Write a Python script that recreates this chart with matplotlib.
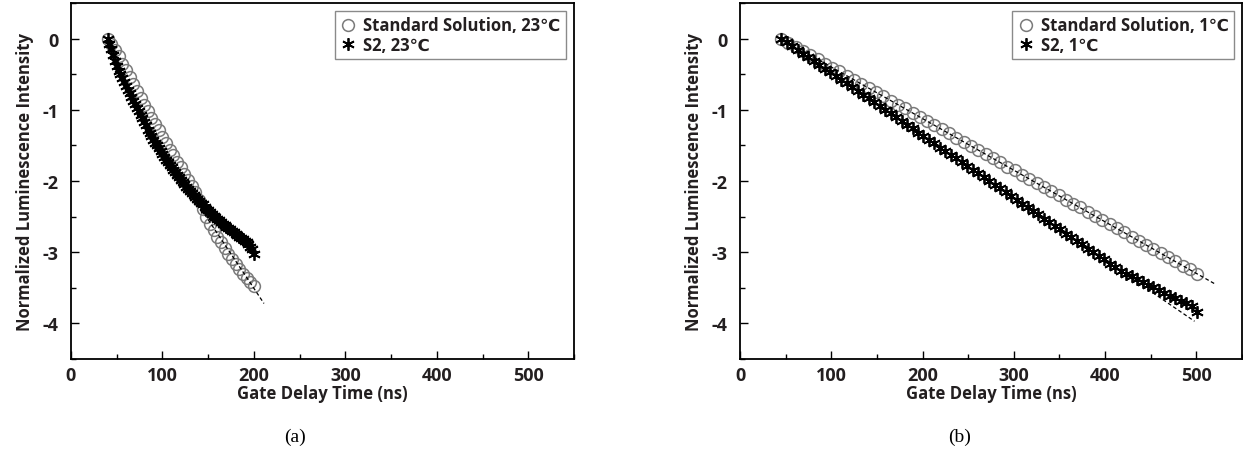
import numpy as np
import matplotlib.pyplot as plt
from matplotlib.ticker import MultipleLocator

plt.rcParams['font.family'] = ['Open Sans', 'DejaVu Sans']
plt.rcParams['font.weight'] = 'bold'
plt.rcParams['axes.labelweight'] = 'bold'
plt.rcParams['axes.unicode_minus'] = False

# (a) 23 C
t_a_std = np.arange(40, 201, 4)
y_a_std = [0.00, -0.07, -0.16, -0.25, -0.35, -0.44, -0.54, -0.64, -0.74, -0.84,
           -0.93, -1.02, -1.11, -1.20, -1.29, -1.38, -1.47, -1.56, -1.64, -1.73,
           -1.81, -1.90, -1.98, -2.07, -2.16, -2.27, -2.39, -2.50, -2.60, -2.69,
           -2.78, -2.86, -2.94, -3.02, -3.09, -3.16, -3.23, -3.30, -3.36, -3.42,
           -3.48]
t_a_s2 = np.arange(40, 201, 2)
y_a_s2 = [0.00, -0.07, -0.15, -0.23, -0.31, -0.38, -0.45, -0.50, -0.56, -0.61,
          -0.66, -0.72, -0.77, -0.82, -0.87, -0.92, -0.97, -1.02, -1.07, -1.12,
          -1.17, -1.22, -1.29, -1.33, -1.37, -1.42, -1.46, -1.50, -1.54, -1.58,
          -1.62, -1.66, -1.70, -1.74, -1.78, -1.81, -1.84, -1.88, -1.91, -1.94,
          -1.98, -2.01, -2.04, -2.08, -2.11, -2.14, -2.17, -2.20, -2.23, -2.25,
          -2.28, -2.31, -2.33, -2.36, -2.39, -2.41, -2.44, -2.46, -2.49, -2.51,
          -2.53, -2.55, -2.58, -2.60, -2.62, -2.64, -2.66, -2.68, -2.70, -2.72,
          -2.74, -2.76, -2.78, -2.80, -2.82, -2.84, -2.86, -2.89, -2.92, -2.96,
          -3.02]
fit_a_t = [112, 211]
fit_a_y = [-1.81, -3.72]

# (b) 1 C
t_b_std = np.arange(45, 502, 8)
y_b_std = [0.00, -0.06, -0.12, -0.17, -0.23, -0.29, -0.35, -0.41, -0.46, -0.52,
           -0.58, -0.64, -0.70, -0.75, -0.81, -0.87, -0.93, -0.98, -1.04, -1.10,
           -1.16, -1.22, -1.27, -1.33, -1.39, -1.45, -1.51, -1.56, -1.62, -1.68,
           -1.74, -1.80, -1.85, -1.91, -1.97, -2.03, -2.09, -2.14, -2.20, -2.26,
           -2.32, -2.37, -2.43, -2.49, -2.55, -2.61, -2.66, -2.72, -2.78, -2.84,
           -2.90, -2.95, -3.01, -3.07, -3.13, -3.19, -3.24, -3.30]
t_b_s2 = np.arange(45, 502, 6)
y_b_s2 = [0.00, -0.05, -0.11, -0.16, -0.21, -0.26, -0.32, -0.37, -0.42, -0.47,
          -0.53, -0.58, -0.63, -0.68, -0.74, -0.79, -0.84, -0.89, -0.95, -1.00,
          -1.05, -1.10, -1.16, -1.21, -1.26, -1.32, -1.37, -1.42, -1.47, -1.53,
          -1.58, -1.63, -1.68, -1.74, -1.79, -1.84, -1.89, -1.95, -2.00, -2.05,
          -2.10, -2.16, -2.21, -2.26, -2.32, -2.37, -2.42, -2.47, -2.53, -2.58,
          -2.63, -2.68, -2.74, -2.79, -2.84, -2.89, -2.95, -3.00, -3.05, -3.10,
          -3.16, -3.21, -3.26, -3.31, -3.34, -3.38, -3.42, -3.46, -3.49, -3.53,
          -3.57, -3.61, -3.64, -3.68, -3.71, -3.75, -3.84]
fit_b_std_t = [45, 521]
fit_b_std_y = [0.00, -3.45]
fit_b_s2_t = [45, 498]
fit_b_s2_y = [0.00, -3.97]

W, H = 1243, 456
fig = plt.figure(figsize=(W / 100, H / 100), dpi=100)
ax_a = fig.add_axes([71 / W, 1 - 360 / H, 503 / W, 356 / H])
ax_b = fig.add_axes([740 / W, 1 - 360 / H, 502 / W, 356 / H])

ast = (6, 2, 0)
txt_col = '#231f20'


def draw(ax, ts, ys, t2, y2, fits, temp):
    for ft, fy in fits:
        ax.plot(ft, fy, ls=(0, (3, 2)), lw=0.9, color='black', zorder=3)
    ax.plot(ts, ys, ls='none', marker='o', ms=8.5, mfc='none', mec='#7a7a7a',
            mew=1.1, label=f'Standard Solution, {temp}', zorder=2)
    ax.plot(t2, y2, ls='none', marker=ast, ms=9, mec='black', mew=1.3,
            color='black', label=f'S2, {temp}', zorder=2)
    ax.set_xlim(0, 550)
    ax.set_ylim(-4.5, 0.5)
    ax.xaxis.set_major_locator(MultipleLocator(100))
    ax.xaxis.set_minor_locator(MultipleLocator(50))
    ax.yaxis.set_major_locator(MultipleLocator(1))
    ax.yaxis.set_minor_locator(MultipleLocator(0.5))
    ax.tick_params(which='both', direction='in', colors='black',
                   labelcolor=txt_col, labelsize=13, width=1.0)
    ax.tick_params(which='major', length=6)
    ax.tick_params(which='minor', length=3.5)
    ax.tick_params(axis='y', pad=9)
    ax.tick_params(axis='x', pad=5)
    for s in ax.spines.values():
        s.set_linewidth(1.3)
    ax.set_xlabel('Gate Delay Time (ns)', fontsize=12, color=txt_col,
                  labelpad=0)
    ax.set_ylabel('Normalized Luminescence Intensity', fontsize=12,
                  color=txt_col, labelpad=6)
    leg = ax.legend(loc='upper right', fontsize=12, frameon=True, fancybox=False,
                    edgecolor='#6d6d6d', borderpad=0.3, handletextpad=0.4,
                    handlelength=1.0, labelspacing=0.1, borderaxespad=0.5)
    leg.get_frame().set_linewidth(1.0)
    for t in leg.get_texts():
        t.set_color(txt_col)


draw(ax_a, t_a_std, y_a_std, t_a_s2, y_a_s2, [(fit_a_t, fit_a_y)], '23℃')
draw(ax_b, t_b_std, y_b_std, t_b_s2, y_b_s2,
     [(fit_b_std_t, fit_b_std_y), (fit_b_s2_t, fit_b_s2_y)], '1℃')

fig.text(295 / W, 1 - 437 / H, '(a)', ha='center', va='center',
         family='Liberation Serif', fontsize=14, weight='normal')
fig.text(960 / W, 1 - 437 / H, '(b)', ha='center', va='center',
         family='Liberation Serif', fontsize=14, weight='normal')

fig.savefig('out.png', dpi=100)
